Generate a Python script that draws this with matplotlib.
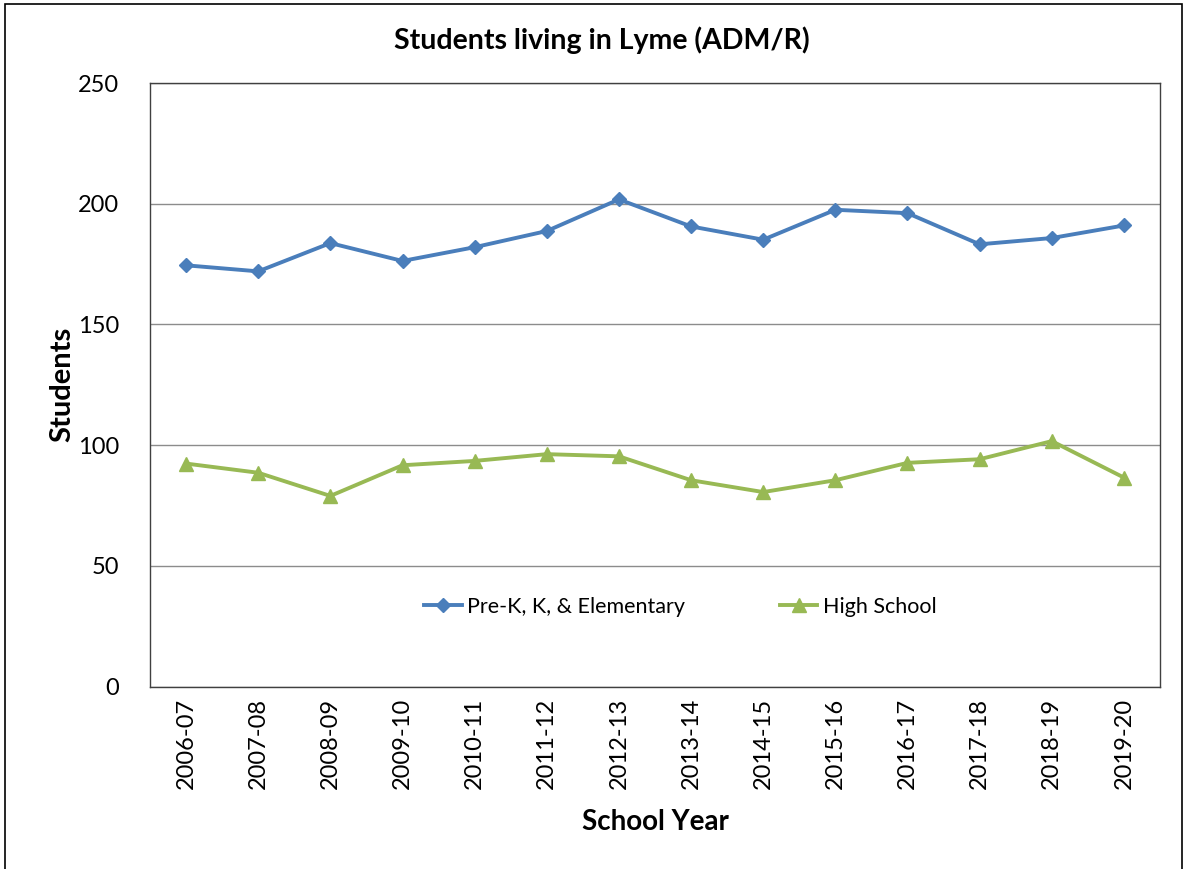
import matplotlib.pyplot as plt
from matplotlib.patches import Rectangle

# Données
annees = ['2006-07', '2007-08', '2008-09', '2009-10', '2010-11', '2011-12', '2012-13',
          '2013-14', '2014-15', '2015-16', '2016-17', '2017-18', '2018-19', '2019-20']
elementaire = [174.5, 172, 183.7, 176.3, 182, 188.7, 201.8,
               190.6, 185.1, 197.5, 196.1, 183.2, 185.8, 191]
lycee = [92.4, 88.6, 79, 91.7, 93.5, 96.3, 95.4,
         85.5, 80.6, 85.5, 92.7, 94.2, 101.7, 86.6]

plt.rcParams['font.family'] = ['Lato', 'DejaVu Sans']

fig = plt.figure(figsize=(11.9, 8.69), dpi=100)
ax = fig.add_axes([150 / 1190, 1 - 686.7 / 869, 1010 / 1190, 603.7 / 869])

# Cadre extérieur
fig.patches.append(Rectangle((5 / 1190, -0.01), 1177 / 1190, 1 - 4 / 869 + 0.01,
                             transform=fig.transFigure, fill=False,
                             edgecolor='black', linewidth=1.2))

x = range(len(annees))
ax.plot(x, elementaire, color='#4A7EBB', linewidth=2.8, marker='D', markersize=7.5,
        label='Pre-K, K, & Elementary')
ax.plot(x, lycee, color='#98B954', linewidth=2.8, marker='^', markersize=10,
        label='High School')

ax.set_xlim(-0.5, len(annees) - 0.5)
ax.set_ylim(0, 250)
ax.set_yticks([0, 50, 100, 150, 200, 250])
ax.set_xticks(list(x))
ax.set_xticklabels(annees, rotation=90, fontsize=17)
ax.tick_params(axis='y', labelsize=17, length=0, pad=22)
ax.tick_params(axis='x', length=0, pad=8)
ax.grid(axis='y', color='#8c8c8c', linewidth=1)
ax.set_axisbelow(True)
for s in ax.spines.values():
    s.set_color('#404040')
    s.set_linewidth(1)

ax.set_ylabel('Students', fontsize=21, fontweight='bold', labelpad=2)
ax.set_xlabel('School Year', fontsize=20, fontweight='bold', labelpad=14)
fig.text(602 / 1190, 1 - 40 / 869, 'Students living in Lyme (ADM/R)',
         ha='center', va='center', fontsize=20.5, fontweight='bold')

ax.legend(loc='center', bbox_to_anchor=(0.525, 33 / 250), ncol=2, frameon=False,
          fontsize=15.5, columnspacing=4.4, handlelength=1.75, handletextpad=0.25)

fig.savefig('out.png', dpi=100)
